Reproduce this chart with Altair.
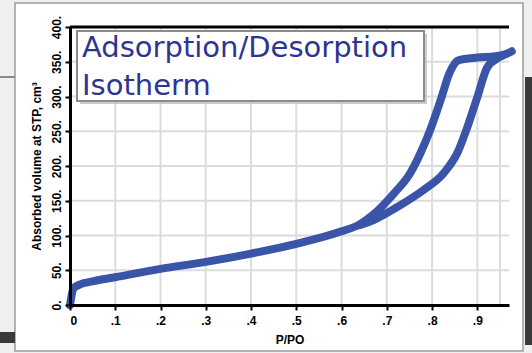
import altair as alt
import pandas as pd

# Adsorption branch (increasing P/PO) and desorption branch (decreasing P/PO)
ads_p = [0.0, 0.003, 0.008, 0.02, 0.05, 0.1, 0.2, 0.3, 0.4, 0.5, 0.6, 0.64, 0.67,
         0.715, 0.752, 0.774, 0.796, 0.819, 0.838, 0.858, 0.9, 0.94, 0.976]
ads_v = [0, 12, 24, 29, 34, 40, 52, 62, 74, 88, 106, 116, 130,
         160, 190, 218, 252, 295, 333, 352, 356, 358, 365]
des_p = [0.95, 0.922, 0.9, 0.878, 0.856, 0.826, 0.78, 0.723, 0.67, 0.64]
des_v = [357, 342, 299, 256, 219, 190, 165, 141, 122, 115]

x_ticks = [0, 0.1, 0.2, 0.3, 0.4, 0.5, 0.6, 0.7, 0.8, 0.9]
x_grid = [0.1, 0.2, 0.3, 0.4, 0.5, 0.6, 0.7, 0.8, 0.9, 0.95]
y_ticks = [0, 50, 100, 150, 200, 250, 300, 350, 400]
y_grid = [50, 100, 150, 200, 250, 300, 350]

title_lines = ["Adsorption/Desorption", "Isotherm"]

P_MAX = 0.97
V_MAX = 400
W, H = 439, 278

curve = pd.DataFrame({
    "p": ads_p + des_p,
    "v": ads_v + des_v,
    "order": list(range(len(ads_p) + len(des_p))),
})

xs = alt.Scale(domain=[0, P_MAX], nice=False, zero=False)
ys = alt.Scale(domain=[0, V_MAX], nice=False)
one = pd.DataFrame({"k": [0]})

axis_common = dict(
    grid=False, zindex=2, domainColor="black", domainWidth=3,
    tickColor="black", tickWidth=2, tickSize=5,
    labelFont="Liberation Sans", labelFontSize=12,
    labelFontWeight="bold", labelColor="black",
    titleFont="Liberation Sans", titleFontSize=12,
    titleFontWeight="bold", titleColor="black",
)
x_axis = alt.Axis(values=x_ticks, format=".1f",
                  labelExpr="datum.value == 0 ? '0' : replace(datum.label, '0.', '.')",
                  labelPadding=5, titlePadding=8, **axis_common)
y_axis = alt.Axis(values=y_ticks, labelExpr="datum.value + '.'",
                  labelAngle=270, labelAlign="center",
                  labelBaseline="bottom", labelPadding=2,
                  titlePadding=7, **axis_common)
x_enc = alt.X("p:Q", scale=xs, title="P/PO", axis=x_axis)
y_enc = alt.Y("v:Q", scale=ys, title="Absorbed volume at STP, cm³", axis=y_axis)

# slide card behind the chart
card = alt.Chart(one).mark_rect(
    fill="white", stroke="#9a9a9a", strokeWidth=1.5
).encode(x=alt.value(-55), x2=alt.value(453), y=alt.value(-24), y2=alt.value(324))

left_rule = alt.Chart(one).mark_rule(color="#8a8a8a", strokeWidth=2).encode(
    x=alt.value(-70), x2=alt.value(-55), y=alt.value(50))

left_bar = alt.Chart(one).mark_rect(fill="#3a3a3a").encode(
    x=alt.value(-70), x2=alt.value(-55), y=alt.value(305), y2=alt.value(316))

right_bar = alt.Chart(one).mark_rect(fill="#3a3a3a").encode(
    x=alt.value(455), x2=alt.value(462), y=alt.value(50), y2=alt.value(318))

vgrid = alt.Chart(pd.DataFrame({"p": x_grid})).mark_rule(
    color="#dcdcdc", strokeWidth=2
).encode(x=x_enc)

hgrid = alt.Chart(pd.DataFrame({"v": y_grid})).mark_rule(
    color="#dcdcdc", strokeWidth=2
).encode(y=y_enc)

top_line = alt.Chart(pd.DataFrame({"v": [V_MAX]})).mark_rule(
    color="black", strokeWidth=3
).encode(y=y_enc, x=alt.value(0), x2=alt.value(W))

line = alt.Chart(curve).mark_line(
    color="#3a55a8", strokeWidth=8, strokeCap="round", strokeJoin="round",
    interpolate="monotone"
).encode(x=x_enc, y=y_enc, order="order:Q")

box_shadow = alt.Chart(one).mark_rect(fill="#b8b8b8", opacity=0.7).encode(
    x=alt.value(10), x2=alt.value(357), y=alt.value(7), y2=alt.value(77))

box = alt.Chart(one).mark_rect(fill="white", stroke="#8c8c8c", strokeWidth=2).encode(
    x=alt.value(7), x2=alt.value(354), y=alt.value(4), y2=alt.value(74))

title_font = dict(align="left", baseline="alphabetic", font="DejaVu Sans",
                  fontSize=29, color="#2e3591")
title1 = alt.Chart(one).mark_text(text=title_lines[0], **title_font).encode(
    x=alt.value(12), y=alt.value(30))
title2 = alt.Chart(one).mark_text(text=title_lines[1], **title_font).encode(
    x=alt.value(12), y=alt.value(68))

chart = alt.layer(
    card, left_rule, left_bar, right_bar, vgrid, hgrid, top_line, line,
    box_shadow, box, title1, title2
).properties(
    width=W, height=H,
    padding={"left": 70, "top": 27, "right": 23, "bottom": 48},
    autosize=alt.AutoSizeParams(type="none"),
    background="#efefef",
).configure_view(stroke=None)

chart.save("out.html", embed_options={"renderer": "svg", "actions": False})
